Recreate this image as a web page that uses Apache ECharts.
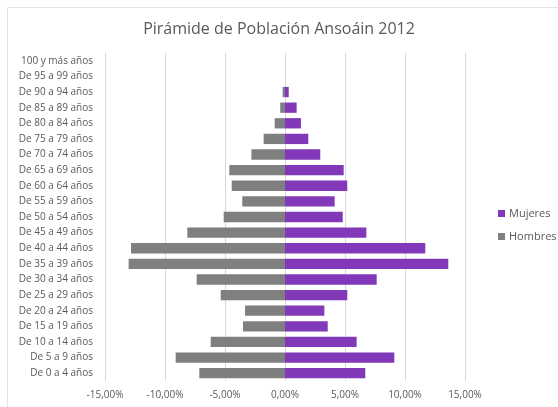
<!DOCTYPE html>
<html>
<head>
<meta charset="utf-8">
<script src="https://cdn.jsdelivr.net/npm/echarts@6/dist/echarts.min.js"></script>
<style>
  html, body { margin: 0; padding: 0; background: #fff; }
  #chart { width: 558px; height: 407px; }
</style>
</head>
<body>
<div id="chart"></div>
<script>
  // age groups, bottom to top
  const categories = [
    'De 0 a 4 años', 'De 5 a 9 años', 'De 10 a 14 años', 'De 15 a 19 años',
    'De 20 a 24 años', 'De 25 a 29 años', 'De 30 a 34 años', 'De 35 a 39 años',
    'De 40 a 44 años', 'De 45 a 49 años', 'De 50 a 54 años', 'De 55 a 59 años',
    'De 60 a 64 años', 'De 65 a 69 años', 'De 70 a 74 años', 'De 75 a 79 años',
    'De 80 a 84 años', 'De 85 a 89 años', 'De 90 a 94 años', 'De 95 a 99 años',
    '100 y más años'
  ];

  // percent of total population
  const mujeres = [
    6.69, 9.11, 5.97, 3.56, 3.28, 5.19, 7.64, 13.61, 11.69, 6.78,
    4.81, 4.14, 5.19, 4.89, 2.94, 1.94, 1.33, 0.97, 0.31, 0, 0
  ];
  const hombres = [
    -7.14, -9.11, -6.19, -3.5, -3.33, -5.36, -7.36, -13.03, -12.83, -8.14,
    -5.11, -3.56, -4.44, -4.64, -2.8, -1.78, -0.86, -0.4, -0.2, 0, 0
  ];

  const xTicks = [-15, -10, -5, 0, 5, 10, 15];

  const fmtPct = (v) => v.toFixed(2).replace('.', ',') + '%';

  const chart = echarts.init(document.getElementById('chart'));

  chart.setOption({
    animation: false,
    textStyle: { fontFamily: 'Open Sans, sans-serif' },
    graphic: [{
      type: 'rect',
      shape: { x: 7.5, y: 7.5, width: 600, height: 450 },
      style: { fill: 'none', stroke: '#e3e3e3', lineWidth: 1 },
      silent: true
    }],
    title: {
      text: 'Pirámide de Población Ansoáin 2012',
      left: 'center',
      top: 16,
      textStyle: {
        fontFamily: 'Open Sans, sans-serif',
        fontSize: 16,
        fontWeight: 'normal',
        color: '#595959'
      }
    },
    legend: {
      orient: 'vertical',
      left: 498,
      top: 208,
      padding: 0,
      itemWidth: 7,
      itemHeight: 7,
      itemGap: 12,
      icon: 'rect',
      data: ['Mujeres', 'Hombres'],
      textStyle: { color: '#595959', fontSize: 11, padding: [0, 0, 0, -1] }
    },
    grid: {
      left: 105,
      right: 93,
      top: 53,
      bottom: 26,
      containLabel: false
    },
    xAxis: {
      type: 'value',
      min: xTicks[0],
      max: xTicks[xTicks.length - 1],
      interval: 5,
      axisLine: { show: false },
      axisTick: { show: false },
      axisLabel: {
        color: '#595959',
        fontSize: 10,
        margin: 9,
        formatter: (v) => fmtPct(v)
      },
      splitLine: { lineStyle: { color: '#d9d9d9', width: 1 } }
    },
    yAxis: {
      type: 'category',
      data: categories,
      axisLine: { show: false },
      axisTick: { show: false },
      axisLabel: { color: '#595959', fontSize: 10, margin: 12 }
    },
    series: [
      {
        name: 'Mujeres',
        type: 'bar',
        data: mujeres,
        barCategoryGap: '34%',
        barGap: '-100%',
        itemStyle: { color: '#8139ba' }
      },
      {
        name: 'Hombres',
        type: 'bar',
        data: hombres,
        barCategoryGap: '34%',
        barGap: '-100%',
        itemStyle: { color: '#7f7f7f' }
      }
    ]
  });

  window.addEventListener('resize', () => chart.resize());
</script>
</body>
</html>
